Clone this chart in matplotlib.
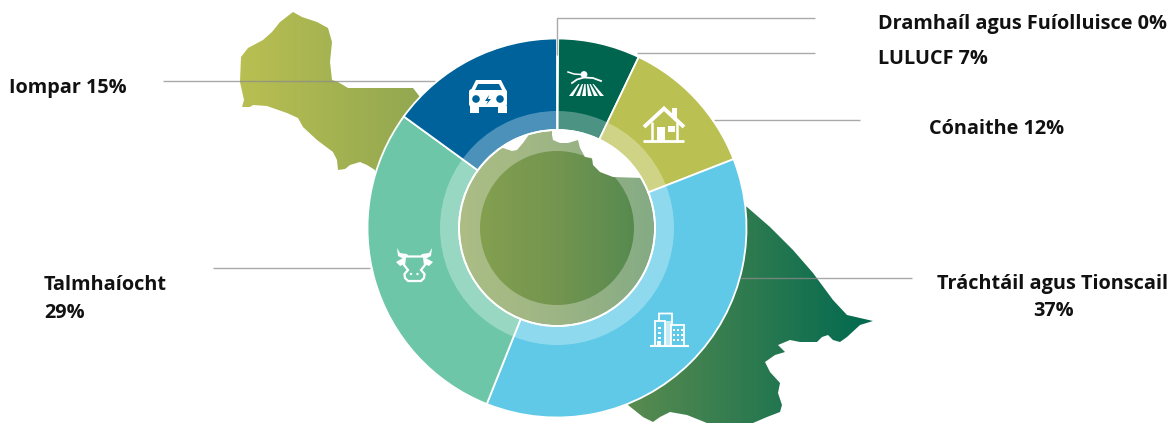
"""Donut of emissions by sector drawn over a gradient map outline."""
import matplotlib
matplotlib.use("Agg")
import matplotlib.pyplot as plt  # noqa: E402
import numpy as np  # noqa: E402
from matplotlib.colors import LinearSegmentedColormap  # noqa: E402
from matplotlib.patches import Circle, FancyBboxPatch, Polygon, Wedge  # noqa: E402

plt.rcParams["font.family"] = ["Open Sans", "DejaVu Sans"]

sectors = ["Dramhaíl agus Fuíolluisce", "LULUCF", "Cónaithe",
           "Tráchtáil agus Tionscail", "Talmhaíocht", "Iompar"]
shares = [0.1, 7, 12, 37, 29, 15]
sector_colors = ["#b0b0b0", "#00654f", "#bbc052", "#60c9e7", "#6cc6a7", "#00629b"]

# map outline, in image pixels
coast = [(293, 12), (302, 17), (317, 22), (328, 28), (332, 42), (330, 62), (332, 80),
         (338, 82), (348, 88), (413, 88), (420, 97), (470, 130), (503, 148), (512, 151),
         (517, 150), (523, 143), (528, 136), (530, 122), (552, 122), (552, 135), (553, 140),
         (560, 143), (568, 143), (578, 140), (580, 148), (585, 157), (592, 158), (593, 165),
         (600, 172), (613, 177), (643, 178), (700, 178), (747, 207), (770, 227), (793, 250),
         (813, 273), (833, 300), (847, 315), (873, 321), (860, 325), (847, 337), (840, 342),
         (833, 340), (828, 335), (822, 337), (817, 342), (800, 342), (790, 340), (778, 345),
         (785, 352), (775, 355), (765, 362), (770, 372), (780, 383), (778, 393), (782, 405),
         (780, 412), (767, 417), (753, 423), (707, 423), (687, 415), (670, 412), (660, 417),
         (653, 422), (643, 417), (628, 405), (557, 400), (400, 300), (375, 170), (367, 165),
         (360, 162), (350, 165), (345, 169), (338, 170), (337, 160), (333, 152), (317, 140),
         (303, 127), (298, 118), (287, 113), (267, 106), (253, 105), (250, 107), (242, 107),
         (244, 100), (240, 82), (241, 57), (248, 48), (263, 40), (272, 32), (280, 22)]

CX, CY = 557, 228
R_OUT, R_IN = 189.5, 98

fig = plt.figure(figsize=(11.76, 4.23), dpi=100)
ax = fig.add_axes([0, 0, 1, 1])

# y axis is flipped below, so counterclock here reads clockwise on screen
wedges, _ = ax.pie(shares, colors=sector_colors, center=(CX, CY), radius=R_OUT,
                   startangle=-90, counterclock=True,
                   wedgeprops=dict(width=R_OUT - R_IN, edgecolor="white", linewidth=1.3, zorder=3))
ax.set_aspect("auto")
ax.axis("off")

# map with left to right gradient
cmap = LinearSegmentedColormap.from_list("map", ["#b9bf52", "#73954f", "#006950"])
grad = ax.imshow(np.linspace(0, 1, 256)[None, :], extent=(240, 875, 423, 0), cmap=cmap,
                 aspect="auto", zorder=1)
clip = Polygon(coast, closed=True, transform=ax.transData, fc="none", ec="none")
ax.add_patch(clip)
grad.set_clip_path(clip)
ax.set_xlim(0, 1176)
ax.set_ylim(423, 0)

# pale ring across the donut and the centre
ax.add_patch(Wedge((CX, CY), 117, 0, 360, width=40, fc="white", ec="none", alpha=0.3, zorder=4))
ax.add_patch(Circle((CX, CY), R_IN, fc="none", ec="white", lw=1.3, zorder=5))

# leader lines
LINE = dict(color="#8c8c8c", lw=1.0, alpha=0.75, solid_capstyle="butt")
ax.plot([556.5, 556.5, 815], [55, 18.5, 18.5], zorder=6, **LINE)
ax.plot([637, 815], [53.5, 53.5], zorder=2, **LINE)
ax.plot([714, 860], [120, 120], zorder=2, **LINE)
ax.plot([163, 440], [81, 81], zorder=2, **LINE)
ax.plot([213, 370], [268, 268], zorder=2, **LINE)
ax.plot([741, 912], [278, 278], zorder=2, **LINE)

# labels
TXT = dict(fontsize=14.3, fontweight="bold", color="#111111", va="center", zorder=7)
ax.text(878, 23.5, f"{sectors[0]} 0%", ha="left", **TXT)
ax.text(878, 58.5, f"{sectors[1]} {shares[1]}%", ha="left", **TXT)
ax.text(929, 129.5, f"{sectors[2]} {shares[2]}%", ha="left", **TXT)
ax.text(1053, 283.5, sectors[3], ha="center", **TXT)
ax.text(1053, 311.5, f"{shares[3]}%", ha="center", **TXT)
ax.text(44, 284.5, sectors[4], ha="left", **TXT)
ax.text(44, 313.5, f"{shares[4]}%", ha="left", **TXT)
ax.text(9, 88.5, f"{sectors[5]} {shares[5]}%", ha="left", **TXT)


def white_poly(pts, fc="white", ec="none", lw=0, zorder=8):
    ax.add_patch(Polygon(pts, closed=True, fc=fc, ec=ec, lw=lw, zorder=zorder))


def draw_car():
    blue = sector_colors[5]
    white_poly([(476, 80), (501, 80), (506, 90), (471, 90)])
    ax.add_patch(FancyBboxPatch((469, 89), 38, 18, boxstyle="round,pad=0,rounding_size=3",
                                fc="white", ec="none", zorder=8))
    white_poly([(470, 106), (479, 106), (479, 113), (470, 113)])
    white_poly([(498, 106), (507, 106), (507, 113), (498, 113)])
    white_poly([(478, 84), (499, 84), (502, 90), (475, 90)], fc=blue)
    ax.add_patch(Circle((476, 99), 3.8, fc=blue, ec="none", zorder=9))
    ax.add_patch(Circle((500, 99), 3.8, fc=blue, ec="none", zorder=9))
    white_poly([(489, 95), (485, 101), (488, 101), (486, 105), (491, 99), (488, 99)],
               fc=blue, zorder=9)


def draw_field():
    ax.add_patch(Circle((584, 74.5), 3.4, fc="white", ec="none", zorder=8))
    ax.plot([568, 574, 581], [72, 74, 74.5], color="white", lw=1.1, zorder=8)
    ax.plot([572, 577, 584, 593, 601], [83, 79.5, 77.5, 78, 81], color="white", lw=1.3, zorder=8)
    for top, bottom in [(-7, -15), (-3.5, -8), (-1, -2), (1.5, 4), (4, 10), (7, 16)]:
        white_poly([(586 + top - 0.6, 84), (586 + top + 0.6, 84),
                    (586 + bottom + 2, 96), (586 + bottom - 2, 96)])


def draw_house():
    ink = dict(color="white", zorder=8, solid_capstyle="butt")
    ax.plot([644, 664, 684], [127, 108.5, 127], lw=2.8, solid_joinstyle="miter", **ink)
    white_poly([(672, 108), (677, 108), (677, 120), (672, 116)])
    ax.plot([651.5, 651.5], [122, 142], lw=1.8, **ink)
    ax.plot([677, 677], [122, 142], lw=1.8, **ink)
    ax.plot([643, 684], [141.5, 141.5], lw=2.0, **ink)
    white_poly([(657, 127), (665, 127), (665, 141), (657, 141)])
    white_poly([(668, 126), (675, 126), (675, 132), (668, 132)])


def draw_building():
    blue = sector_colors[3]
    white_poly([(659, 321), (659, 313.5), (672, 313.5), (672, 325)], fc="none", ec="white", lw=1.3)
    white_poly([(671, 325), (684, 325), (684, 346), (671, 346)], fc=blue, ec="white", lw=1.3, zorder=9)
    white_poly([(654.5, 321), (665, 321), (665, 346), (654.5, 346)], fc=blue, ec="white", lw=1.3, zorder=9)
    white_poly([(665, 321), (671, 321), (671, 346), (665, 346)], fc="#c4ebf6", zorder=8)
    ax.plot([651, 688], [346.5, 346.5], color="white", lw=1.5, zorder=10)
    for yy in (327, 332, 337):
        white_poly([(658, yy), (660.5, yy), (660.5, yy + 2.5), (658, yy + 2.5)], zorder=10)
    white_poly([(657, 341), (661, 341), (661, 346), (657, 346)], zorder=10)
    for yy in (329, 334, 339):
        for xx in (673, 677, 681):
            white_poly([(xx, yy), (xx + 2.2, yy), (xx + 2.2, yy + 2.2), (xx, yy + 2.2)], zorder=10)


def draw_cow():
    mint = sector_colors[4]
    # horns
    white_poly([(397, 248), (400, 253), (407, 254), (410, 258), (404, 259), (398, 256)])
    white_poly([(432, 248), (429, 253), (422, 254), (419, 258), (425, 259), (431, 256)])
    # ears
    white_poly([(396, 262), (405, 257), (407, 263), (400, 266)])
    white_poly([(433, 262), (424, 257), (422, 263), (429, 266)])
    # head
    white_poly([(405, 256.5), (424, 256.5), (425, 265), (421, 270), (424.5, 274), (424, 278),
                (421, 281), (408, 281), (405, 278), (404.5, 274), (408, 270), (404, 265)],
               fc=mint, ec="white", lw=1.6)
    ax.add_patch(Circle((411, 274), 1.2, fc="white", ec="none", zorder=9))
    ax.add_patch(Circle((417.5, 274), 1.2, fc="white", ec="none", zorder=9))


draw_car()
draw_field()
draw_house()
draw_building()
draw_cow()

fig.savefig("out.png", dpi=100, facecolor="white")
